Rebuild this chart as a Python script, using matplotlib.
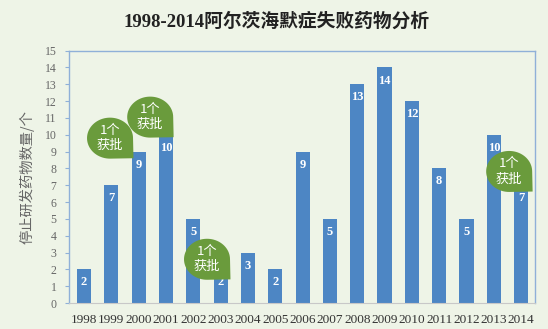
import matplotlib
matplotlib.use("Agg")
import matplotlib.pyplot as plt
from matplotlib.path import Path
from matplotlib.patches import PathPatch
from matplotlib.transforms import IdentityTransform
import numpy as np

years = ["1998", "1999", "2000", "2001", "2002", "2003", "2004", "2005", "2006",
         "2007", "2008", "2009", "2010", "2011", "2012", "2013", "2014"]
counts = [2, 7, 9, 10, 5, 2, 3, 2, 9, 5, 13, 14, 12, 8, 5, 10, 7]
# approval bubbles: (x position in bar index units, y value)
bubble_x = [0.95, 2.42, 4.5, 15.56]
bubble_y = [9.8, 11.05, 2.6, 7.82]
bubble_text = "1个\n获批"

title = "1998-2014阿尔茨海默症失败药物分析"
ylabel = "停止研发药物数量/个"

bg = "#eef4e7"
bar_c = "#4d86c4"
green = "#6a9b3c"
serif = ["Liberation Serif", "Noto Sans CJK SC"]
cjk = ["Noto Sans CJK SC", "DejaVu Sans"]

fig = plt.figure(figsize=(5.48, 3.29), dpi=100, facecolor=bg)
ax = fig.add_axes([0.126, 0.079, 0.850, 0.767])
ax.set_facecolor(bg)

x = np.arange(len(years))
ax.bar(x, counts, width=0.52, color=bar_c, zorder=2)
for xi, c in zip(x, counts):
    ax.annotate(str(c), (xi, c), xytext=(0, -9.4), textcoords="offset points",
                ha="center", va="center", color="white", fontsize=9,
                fontweight="bold", family=serif, zorder=3)

ax.set_xlim(-0.55, 16.5)
ax.set_ylim(0, 15)
ax.set_yticks(range(0, 16))
ax.set_xticks(x)
ax.set_xticklabels(years, family=serif, fontsize=9.5, color="#333333")
ax.tick_params(axis="x", length=0, pad=8)
ax.tick_params(axis="y", length=3, direction="out", color="#8fb0d8",
               labelsize=8.5, labelcolor="#666666", pad=6)
for lab in ax.get_yticklabels():
    lab.set_family(serif)

for s in ["top", "right", "left"]:
    ax.spines[s].set_color("#8fb0d8")
    ax.spines[s].set_linewidth(1.0)
ax.spines["bottom"].set_color("#c8c8c8")

ax.set_ylabel(ylabel, family=cjk, fontsize=10.3, color="#666666", labelpad=7)

fig.text(0.505, 0.933, title, ha="center", va="center", fontsize=13.5,
         fontweight="bold", family=serif, color="#222222")

# speech bubbles drawn in pixel space so they stay round
fig.canvas.draw()
rx, ry = 23.0, 20.5
theta = np.linspace(0, 1.5 * np.pi, 60)
for bx, by in zip(bubble_x, bubble_y):
    cx, cy = ax.transData.transform((bx, by))
    verts = [(cx + rx * np.cos(t), cy + ry * np.sin(t)) for t in theta]
    verts.append((cx + rx * 1.02, cy - ry * 0.98))
    verts.append((cx + rx, cy))
    codes = [Path.MOVETO] + [Path.LINETO] * (len(verts) - 2) + [Path.CLOSEPOLY]
    patch = PathPatch(Path(verts, codes), facecolor=green, edgecolor="none",
                      transform=IdentityTransform(), zorder=4, clip_on=False)
    ax.add_patch(patch)
    ax.text(bx, by, bubble_text, ha="center", va="center", color="white",
            fontsize=9.5, family=cjk, linespacing=1.2, zorder=5)

fig.savefig("out.png", dpi=100, facecolor=bg)
